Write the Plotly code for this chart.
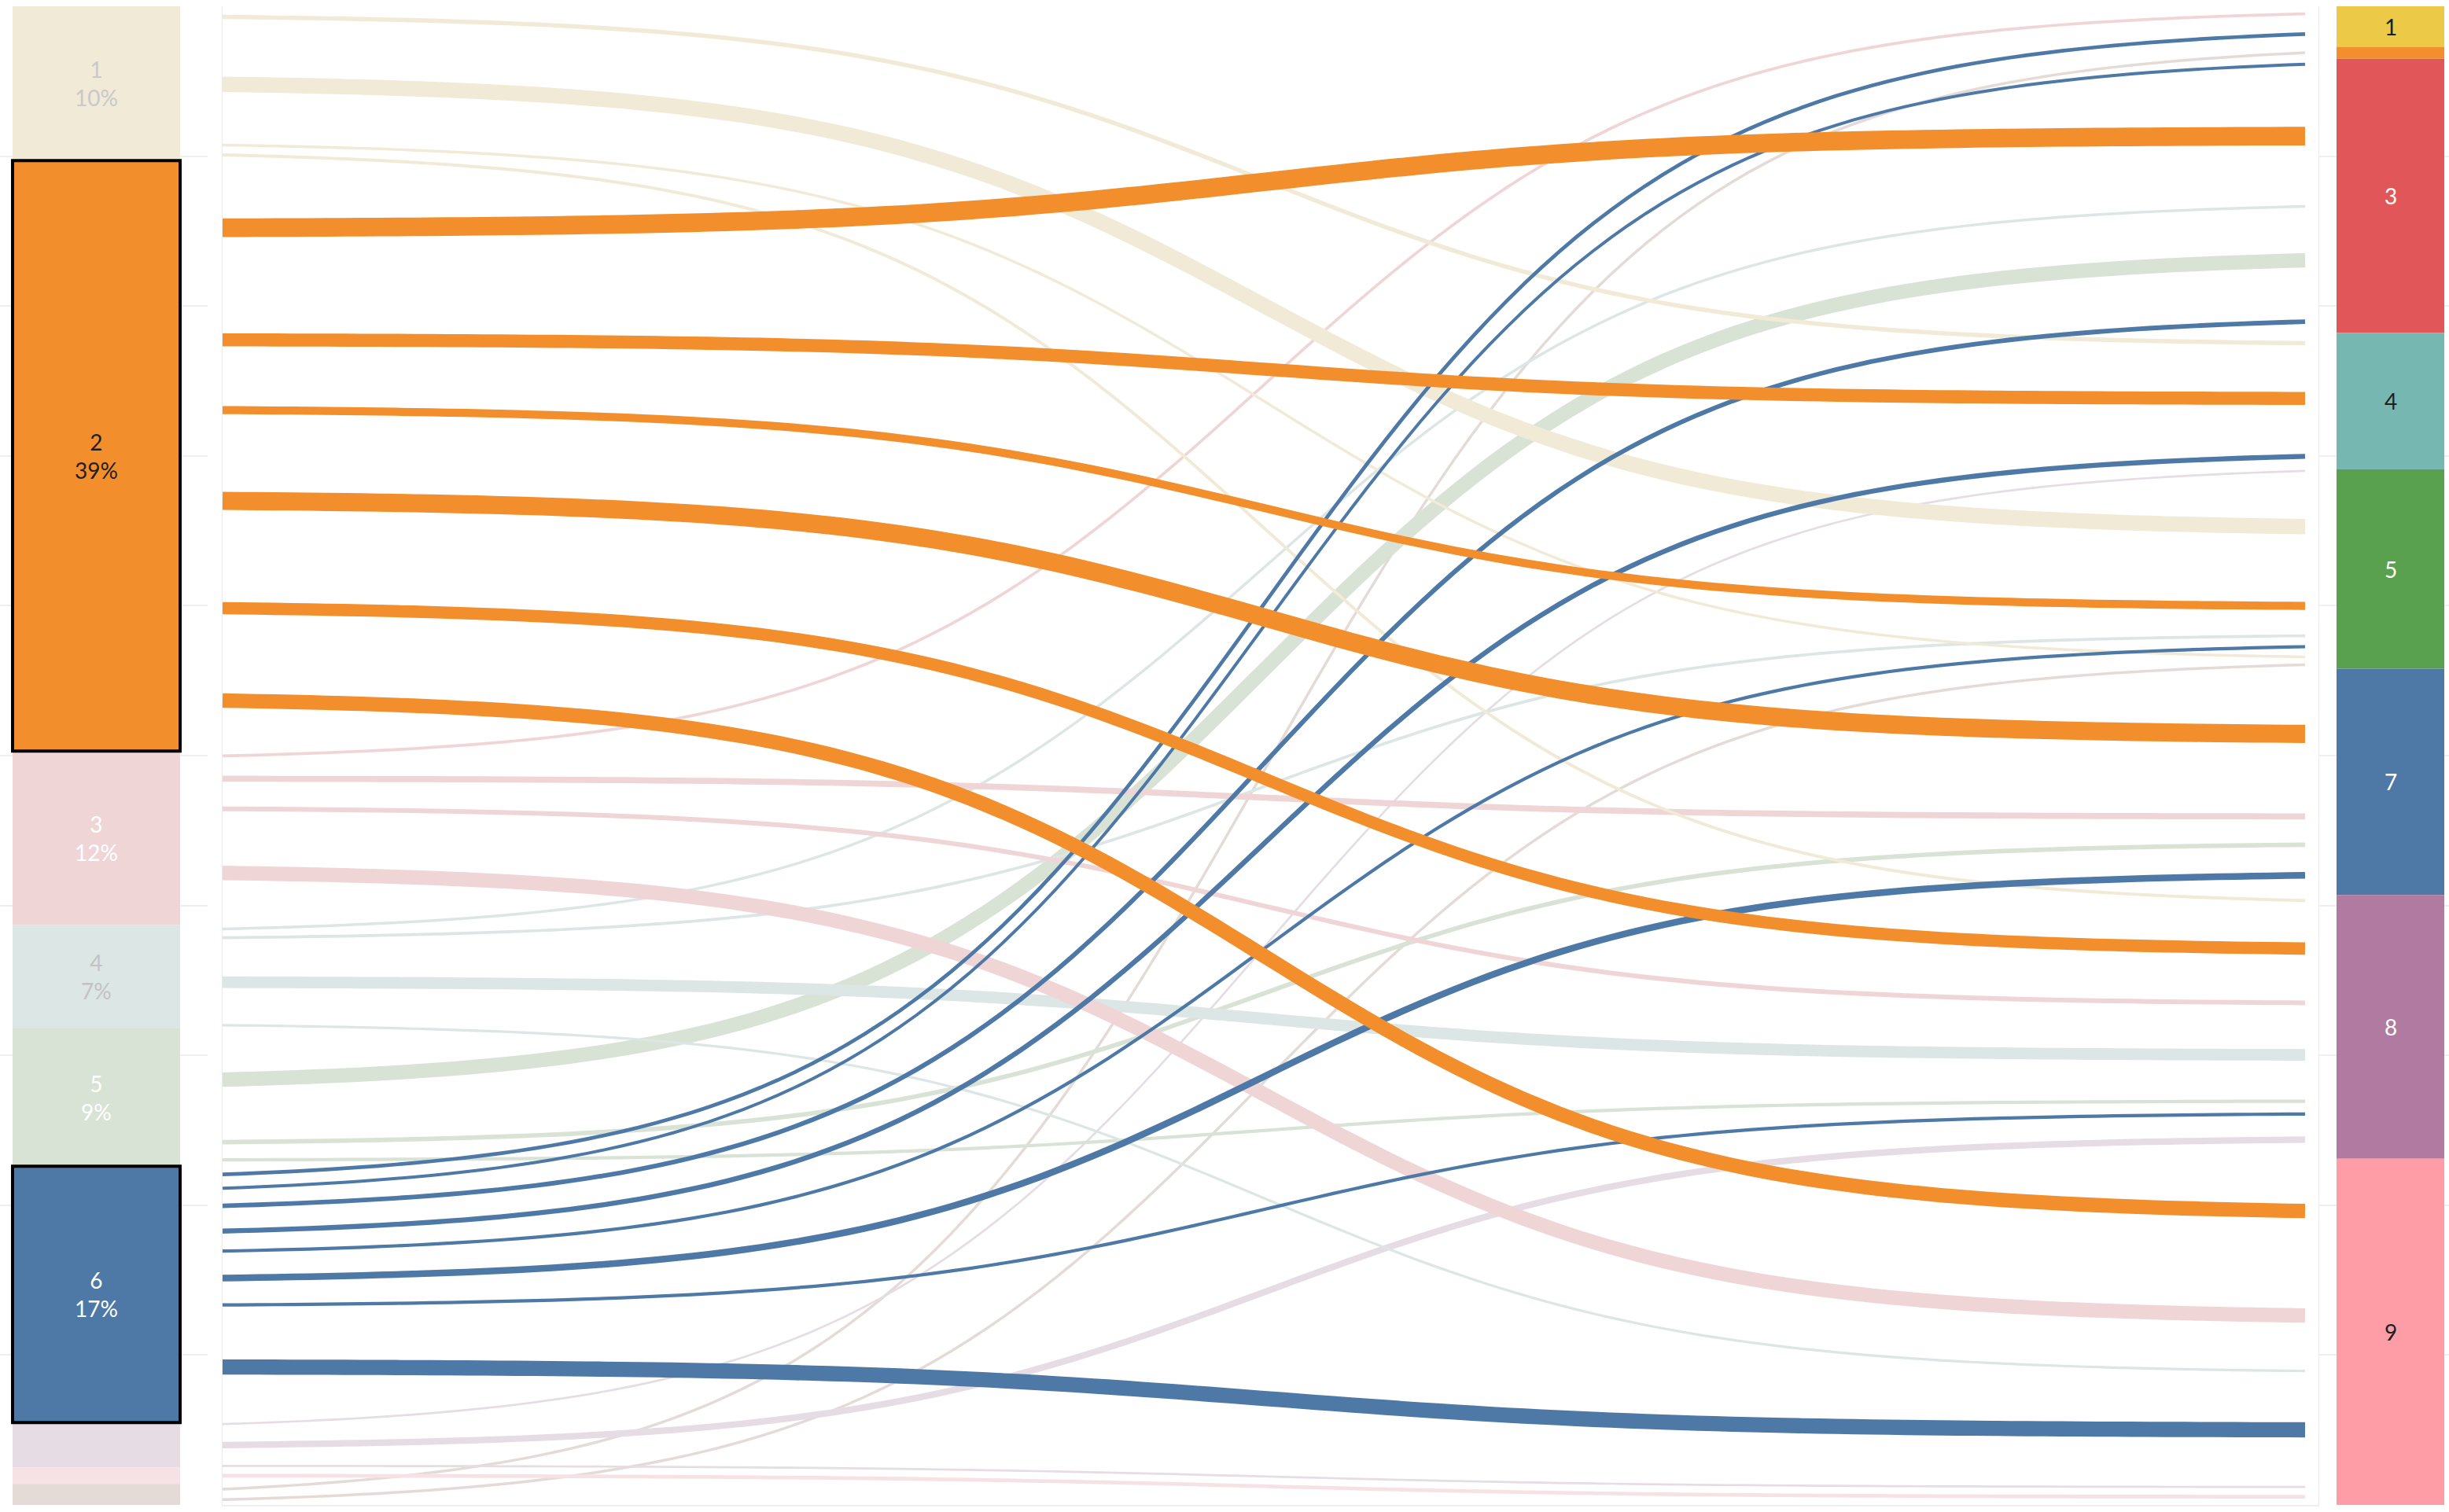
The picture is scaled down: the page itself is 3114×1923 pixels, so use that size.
import numpy as np
import plotly.graph_objects as go

# ------------------------------------------------------------------ data
left_cats = ['1', '2', '3', '4', '5', '6', '7', '8', '9']
left_share = [10.3, 39.4, 11.6, 6.9, 9.2, 17.1, 3.0, 1.1, 1.4]          # % of total
right_cats = ['1', '2', '3', '4', '5', '7', '8', '9']
right_share = [2.7, 0.8, 18.3, 9.1, 13.3, 15.1, 17.6, 23.1]               # % of total

# flows, listed in their order inside each left (source) bar segment
flow_source = ['1', '1', '1', '1',
               '2', '2', '2', '2', '2', '2',
               '3', '3', '3', '3',
               '4', '4', '4', '4',
               '5', '5', '5',
               '6', '6', '6', '6', '6', '6', '6', '6',
               '7', '7', '7',
               '8',
               '9', '9']
flow_target = ['4', '5', '5', '8',
               '3', '4', '5', '7', '8', '9',
               '1', '7', '8', '9',
               '3', '5', '8', '9',
               '3', '7', '8',
               '1', '3', '3', '4', '5', '7', '8', '9',
               '5', '8', '9',
               '9',
               '2', '5']
flow_value = [26, 138, 10, 14,
              170, 114, 64, 166, 106, 128,
              12, 44, 30, 128,
              10, 12, 100, 8,
              128, 28, 16,
              20, 14, 29, 33, 16, 50, 16, 136,
              4, 48, 4,
              20,
              10, 10]
# order of each flow inside its right (target) bar segment
flow_target_rank = [0, 1, 5, 0,
                    1, 1, 2, 0, 1, 0,
                    0, 1, 2, 1,
                    2, 3, 3, 2,
                    3, 2, 4,
                    1, 0, 4, 2, 4, 3, 5, 3,
                    0, 6, 4,
                    5,
                    0, 6]
highlighted = ['2', '6']

# ------------------------------------------------------------------ styles
left_colors = ['#F0EAD6', '#F28E2B', '#F0D5D7', '#DBE6E5', '#D8E3D5',
               '#4E79A7', '#E6DCE4', '#F6E2E4', '#E4DBD7']
left_label_colors = ['#C9C9C9', '#1F1F1F', '#FFFFFF', '#C3C3C3', '#FFFFFF',
                     '#FFFFFF', '#FFFFFF', '#FFFFFF', '#FFFFFF']
right_colors = ['#EDC948', '#F28E2B', '#E15759', '#76B7B2', '#59A14F',
                '#4E79A7', '#B07AA1', '#FF9DA7']
right_label_colors = ['#1F1F1F', '#1F1F1F', '#FFFFFF', '#1F1F1F', '#FFFFFF',
                      '#FFFFFF', '#FFFFFF', '#1F1F1F']
FONT = 'Lato'
FONT_SIZE = 28
W, H = 3114, 1923
Y_DOM = [1 - 1914 / H, 1 - 8 / H]
X1_DOM = [0, 264 / W]
X2_DOM = [283 / W, 2949 / W]
X3_DOM = [2949 / W, 1]
GRID = '#EFEFEF'

# ------------------------------------------------------------------ layout computation
left_base = np.concatenate([[0], np.cumsum(left_share)[:-1]])
right_base = np.concatenate([[0], np.cumsum(right_share)[:-1]])
n = len(flow_value)
src_idx = [left_cats.index(s) for s in flow_source]
tgt_idx = [right_cats.index(t) for t in flow_target]

y_left, y_right = [], []
for i in range(n):
    s = src_idx[i]
    mem = [j for j in range(n) if src_idx[j] == s]
    tot = sum(flow_value[j] for j in mem)
    before = sum(flow_value[j] for j in mem if j < i)
    y_left.append(left_base[s] + left_share[s] * (before + flow_value[i] / 2) / tot)

    t = tgt_idx[i]
    mem = [j for j in range(n) if tgt_idx[j] == t]
    tot = sum(flow_value[j] for j in mem)
    before = sum(flow_value[j] for j in mem if flow_target_rank[j] < flow_target_rank[i])
    y_right.append(right_base[t] + right_share[t] * (before + flow_value[i] / 2) / tot)

tt = np.linspace(0, 1, 121)
sig = 1 / (1 + np.exp(-(10 * tt - 5)))
ease = (sig - sig[0]) / (sig[-1] - sig[0])

fig = go.Figure()

# draw order: faded flows (last source first), then highlighted (orange on top)
def sort_key(i):
    hl = flow_source[i] in highlighted
    return (1 if hl else 0, -src_idx[i])

for i in sorted(range(n), key=sort_key):
    yy = y_left[i] + (y_right[i] - y_left[i]) * ease
    fig.add_trace(go.Scatter(
        x=tt, y=yy, mode='lines', xaxis='x2', yaxis='y2',
        line=dict(color=left_colors[src_idx[i]], width=2.2 + 0.126 * flow_value[i],
                  simplify=False),
        hoverinfo='skip', showlegend=False))

# left bar (faded first, highlighted with outline on top)
LBX, LBW = 122.5 / 264, 213 / 264
for hl in (False, True):
    idx = [k for k, c in enumerate(left_cats) if (c in highlighted) == hl]
    fig.add_trace(go.Bar(
        x=[LBX] * len(idx), y=[left_share[k] for k in idx],
        base=[left_base[k] for k in idx], width=LBW,
        marker=dict(color=[left_colors[k] for k in idx],
                    line=dict(color='#000000', width=4 if hl else 0)),
        xaxis='x', yaxis='y', hoverinfo='skip', showlegend=False))

# right bar
RBX, RBW = (3039.5 - 2949) / 165, 137 / 165
fig.add_trace(go.Bar(
    x=[RBX] * len(right_cats), y=right_share, base=right_base, width=RBW,
    marker=dict(color=right_colors, line=dict(width=0)),
    xaxis='x3', yaxis='y3', hoverinfo='skip', showlegend=False))

annotations = []
for k, c in enumerate(left_cats):
    if left_share[k] >= 4:
        annotations.append(dict(
            x=LBX, y=left_base[k] + left_share[k] / 2, xref='x', yref='y',
            text=f'{c}<br>{round(left_share[k])}%', showarrow=False,
            xanchor='center', yanchor='middle',
            font=dict(family=FONT, size=FONT_SIZE, color=left_label_colors[k])))
for k, c in enumerate(right_cats):
    if right_share[k] >= 2:
        annotations.append(dict(
            x=RBX, y=right_base[k] + right_share[k] / 2, xref='x3', yref='y3',
            text=c, showarrow=False, xanchor='center', yanchor='middle',
            font=dict(family=FONT, size=FONT_SIZE, color=right_label_colors[k])))

hidden_x = dict(showgrid=False, zeroline=False, showticklabels=False, ticks='',
                fixedrange=True)
fig.update_layout(
    width=W, height=H, margin=dict(l=0, r=0, t=0, b=0),
    paper_bgcolor='white', plot_bgcolor='white',
    font=dict(family=FONT), barmode='overlay', hovermode=False,
    showlegend=False, annotations=annotations,
    xaxis=dict(domain=X1_DOM, range=[0, 1], anchor='y', **hidden_x),
    xaxis2=dict(domain=X2_DOM, range=[0, (2949 - 283) / (2931 - 283)], anchor='y2',
                showline=True, linecolor=GRID, linewidth=2, **hidden_x),
    xaxis3=dict(domain=X3_DOM, range=[0, 1], anchor='y3', **hidden_x),
    yaxis=dict(domain=Y_DOM, range=[100, 0], anchor='x', showgrid=True,
               gridcolor=GRID, gridwidth=2, dtick=10, tick0=0, zeroline=False,
               showticklabels=False, ticks='', fixedrange=True),
    yaxis2=dict(domain=Y_DOM, range=[100, 0], anchor='x2', showgrid=False,
                zeroline=False, showticklabels=False, ticks='', showline=True,
                linecolor='#EBEBEB', linewidth=1, fixedrange=True),
    yaxis3=dict(domain=Y_DOM, range=[100, 0], anchor='x3', showgrid=True,
                gridcolor=GRID, gridwidth=2, dtick=10, tick0=0, zeroline=False,
                showticklabels=False, ticks='', showline=True,
                linecolor='#EBEBEB', linewidth=1, fixedrange=True),
)

fig.write_html("out.html", config={'displayModeBar': False},
               post_script="document.body.style.margin='0px';")
